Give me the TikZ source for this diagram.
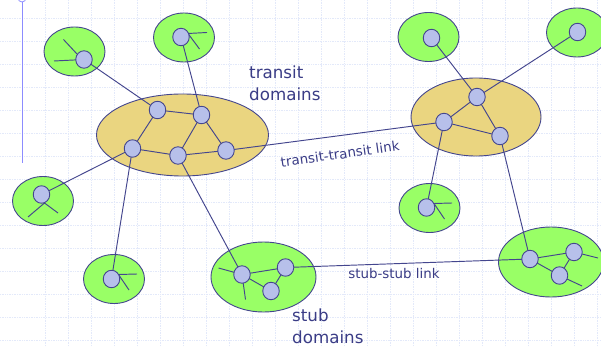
\documentclass[tikz,border=0pt]{standalone}
\usepackage{fontspec}
\setmainfont{DejaVu Sans}
\usetikzlibrary{shapes.geometric}
\definecolor{ink}{HTML}{44468E}
\definecolor{txt}{HTML}{3A3C86}
\definecolor{rgreen}{HTML}{99FF66}
\definecolor{ryellow}{HTML}{EAD580}
\definecolor{rnode}{HTML}{B7C0EA}
\definecolor{gridc}{HTML}{E3E9FA}
\tikzset{
 stubdom/.style={ellipse,draw=ink,line width=0.9pt,fill=rgreen,inner sep=0pt,minimum width=61pt,minimum height=49pt},
 bigstub/.style={stubdom,minimum width=105pt,minimum height=70pt},
 transdom/.style={ellipse,draw=ink,line width=0.9pt,fill=ryellow,inner sep=0pt},
 router/.style={ellipse,draw=ink,line width=0.9pt,fill=rnode,inner sep=0pt,minimum width=16.5pt,minimum height=17.5pt},
 link/.style={draw=ink,line width=0.95pt},
 gridl/.style={draw=gridc,line width=0.7pt,densely dotted},
 lab/.style={text=txt,inner sep=0pt,align=left}
}
\begin{document}
\begin{tikzpicture}[x=1pt,y=-1pt]
\useasboundingbox (0,0) rectangle (601,347);
\fill[white] (0,0) rectangle (601,347);
\foreach \x in {45,68,...,600} \draw[gridl] (\x,0) -- (\x,347);
\foreach \y in {18.5,41.5,...,347} \draw[gridl] (0,\y) -- (601,\y);
\draw[color=blue!45!white,line width=1pt] (22,2) -- (22,163);
\draw[color=blue!45!white,line width=0.8pt] (22,-2) circle (4);

% domains
\node[stubdom] (g1) at (74.5,51.5) {};
\node[stubdom] (g2) at (184,37.5) {};
\node[stubdom] (g3) at (428.5,37) {};
\node[stubdom] (g4) at (577,32.5) {};
\node[stubdom] (g5) at (43,201) {};
\node[stubdom] (g6) at (114,279) {};
\node[stubdom] (g7) at (429.5,208) {};
\node[bigstub] (g8) at (263.5,277) {};
\node[bigstub] (g9) at (551,262) {};
\node[transdom,minimum width=172pt,minimum height=82pt] (t1) at (182.5,135) {};
\node[transdom,minimum width=130pt,minimum height=78pt] (t2) at (476,117) {};

% routers (coordinates first, drawn last)
\coordinate (a1) at (84,59.5);
\coordinate (a2) at (181,37);
\coordinate (a3) at (431.5,38);
\coordinate (a4) at (577.5,32);
\coordinate (a5) at (41.5,194.5);
\coordinate (a6) at (111.5,279);
\coordinate (a7) at (426.5,207.5);
\coordinate (b1) at (157.5,110);
\coordinate (b2) at (201.5,115);
\coordinate (b3) at (132.5,148.5);
\coordinate (b4) at (178,155.5);
\coordinate (b5) at (226,150.5);
\coordinate (c1) at (477,97);
\coordinate (c2) at (444,122);
\coordinate (c3) at (500,136);
\coordinate (d1) at (242,274.5);
\coordinate (d2) at (285.5,267.5);
\coordinate (d3) at (271,291);
\coordinate (e1) at (530,259);
\coordinate (e2) at (574,252);
\coordinate (e3) at (559.5,275.5);

% free ends of stubs
\coordinate (s1) at (63.5,39.5);
\coordinate (s2) at (54,61);
\coordinate (s3) at (207,32.5);
\coordinate (s4) at (199.5,49);
\coordinate (s5) at (28,217);
\coordinate (s6) at (58,213);
\coordinate (s7) at (137,274);
\coordinate (s8) at (129,290);
\coordinate (s9) at (452,203);
\coordinate (s10) at (444.5,219);
\coordinate (s11) at (218.5,268);
\coordinate (s12) at (245.5,299.5);
\coordinate (s13) at (598,258);
\coordinate (s14) at (582,286);
% stub junctions on the router edges
\coordinate (j1) at (77,54);
\coordinate (j2) at (188,33.5);
\coordinate (j5) at (44.5,203);
\coordinate (j6) at (118.5,274.5);
\coordinate (j7) at (434,203.5);

\path[link]
 (j1) -- (s1) (a1) -- (s2) (j2) -- (s3) (j2) -- (s4)
 (j5) -- (s5) (j5) -- (s6) (j6) -- (s7) (j6) -- (s8)
 (j7) -- (s9) (j7) -- (s10) (d1) -- (s11) (d1) -- (s12)
 (e2) -- (s13) (e3) -- (s14)
 (a1) -- (b1) (a2) -- (b2) (b1) -- (b2) (b1) -- (b3) (b2) -- (b4) (b2) -- (b5)
 (b3) -- (b4) (b4) -- (b5) (b5) -- (c2) (b3) -- (a5) (b3) -- (a6) (b4) -- (d1)
 (a3) -- (c1) (a4) -- (c1) (c1) -- (c2) (c1) -- (c3) (c2) -- (c3) (c2) -- (a7) (c3) -- (e1)
 (d1) -- (d2) (d1) -- (d3) (d2) -- (d3) (d2) -- (e1)
 (e1) -- (e2) (e1) -- (e3) (e2) -- (e3);

\foreach \n in {a1,a2,a3,a4,a5,a6,a7,b1,b2,b3,b4,b5,c1,c2,c3,d1,d2,d3,e1,e2,e3}
  \node[router] (r\n) at (\n) {};

% labels
\node[lab,anchor=north west,font=\fontsize{16.7}{22}\selectfont] (l1) at (249,66) {transit\\domains};
\node[lab,anchor=north west,font=\fontsize{16.7}{22}\selectfont] (l2) at (292,309) {stub\\domains};
\node[lab,rotate=8,font=\fontsize{13.4}{15}\selectfont] (l3) at (340,154) {transit-transit link};
\node[lab,font=\fontsize{13.4}{15}\selectfont] (l4) at (394,274) {stub-stub link};
\end{tikzpicture}
\end{document}
